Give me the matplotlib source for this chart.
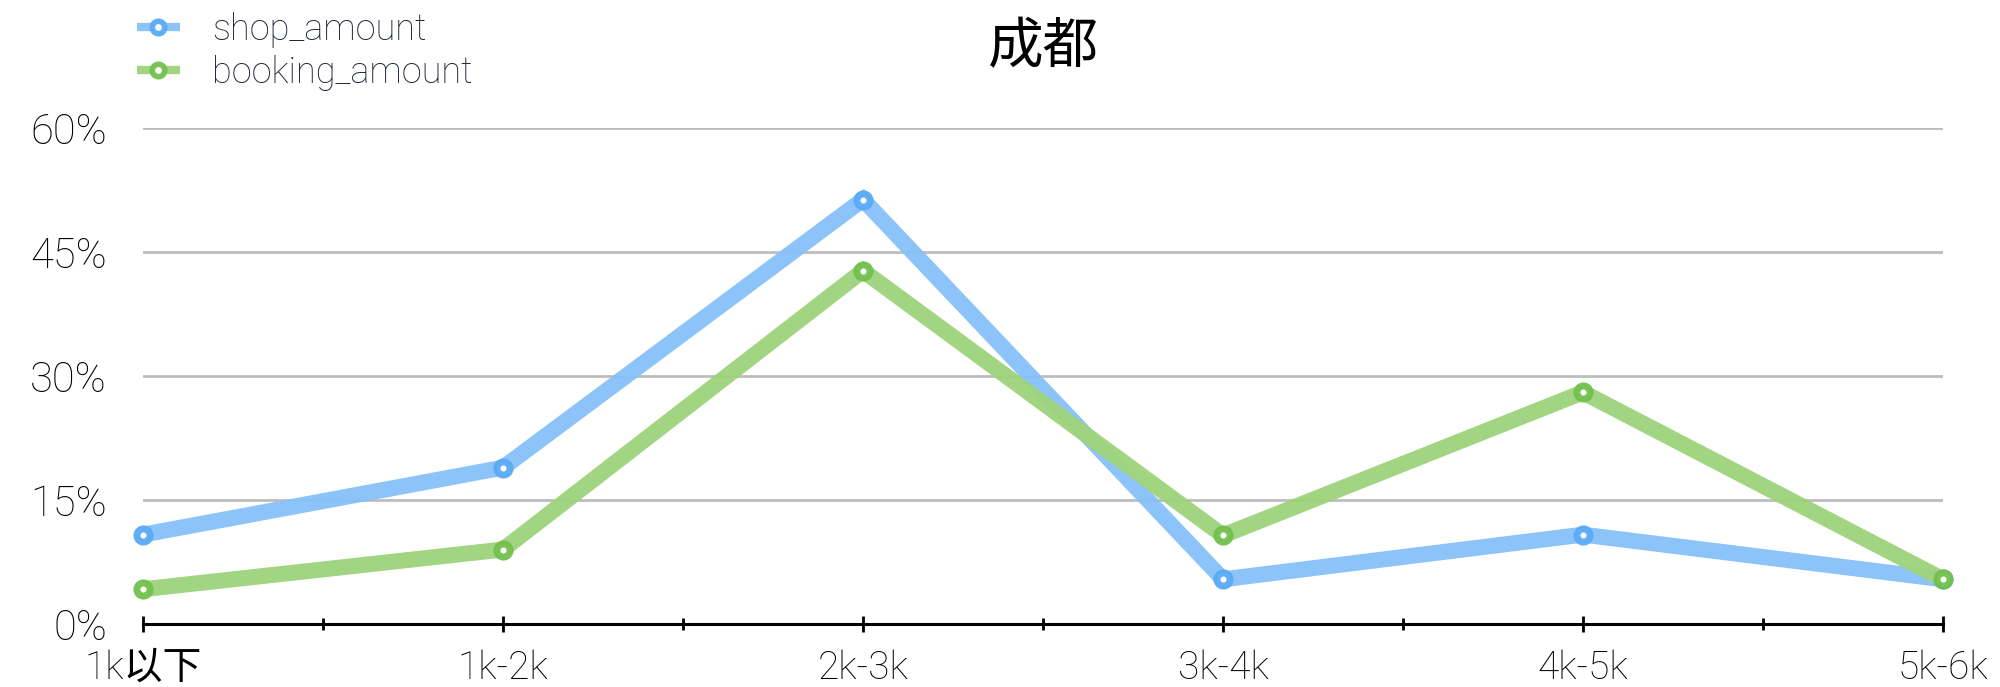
import matplotlib
matplotlib.use("Agg")
import matplotlib.pyplot as plt
from matplotlib.ticker import FixedLocator, FuncFormatter

plt.rcParams['font.family'] = ['Roboto', 'Noto Sans CJK SC', 'DejaVu Sans']
plt.rcParams['font.weight'] = 'light'

categories = ["1k以下", "1k-2k", "2k-3k", "3k-4k", "4k-5k", "5k-6k"]
shop_amount = [0.108, 0.189, 0.513, 0.054, 0.108, 0.054]
booking_amount = [0.042, 0.090, 0.427, 0.107, 0.280, 0.054]
yticks = [0, 0.15, 0.30, 0.45, 0.60]
title = "成都"

fig = plt.figure(figsize=(20, 6.87), dpi=100)
ax = fig.add_axes([0.0715, 0.0917, 0.9, 0.7226])

x = list(range(len(categories)))
series = [
    ("shop_amount", shop_amount, "#86C1F9", "#5AAAF5"),
    ("booking_amount", booking_amount, "#9DD37A", "#73C04D"),
]
for name, vals, lc, mc in series:
    ax.plot(x, vals, color=lc, lw=11.5, solid_capstyle='butt', solid_joinstyle='miter',
            alpha=0.95, zorder=3, clip_on=False,
            marker='o', markersize=9.5, markerfacecolor='white',
            markeredgecolor=mc, markeredgewidth=5, label=name)

ax.set_xlim(0, 5)
ax.set_ylim(0, 0.6)
ax.yaxis.set_major_locator(FixedLocator(yticks))
ax.yaxis.set_major_formatter(FuncFormatter(lambda v, p: f"{v*100:.0f}%"))
ax.grid(axis='y', color='#BDBDBD', lw=2)
ax.set_axisbelow(True)
for s in ['top', 'right', 'left']:
    ax.spines[s].set_visible(False)
ax.spines['bottom'].set_linewidth(2.2)
ax.spines['bottom'].set_zorder(2)

ax.set_xticks(x)
ax.set_xticklabels(categories)
ax.set_xticks([i + 0.5 for i in range(5)], minor=True)
ax.tick_params(axis='x', which='major', direction='inout', length=12, width=2, pad=12,
               labelsize=28, colors='black')
ax.tick_params(axis='x', which='minor', direction='inout', length=8, width=2)
ax.tick_params(axis='y', length=0, pad=26, labelsize=30, colors='black')

ax.set_title(title, fontsize=40, pad=46, x=0.5, weight='normal', color='black')

leg = fig.legend(loc='upper left', bbox_to_anchor=(0.052, 1.03), frameon=False,
                 fontsize=26, handlelength=1.2, handletextpad=0.9, labelspacing=0.2,
                 labelcolor='#1E2438')
for h in leg.legend_handles:
    h.set_linewidth(6)
    h.set_markersize(9)
    h.set_markeredgewidth(4)

fig.savefig("out.png", dpi=100)
